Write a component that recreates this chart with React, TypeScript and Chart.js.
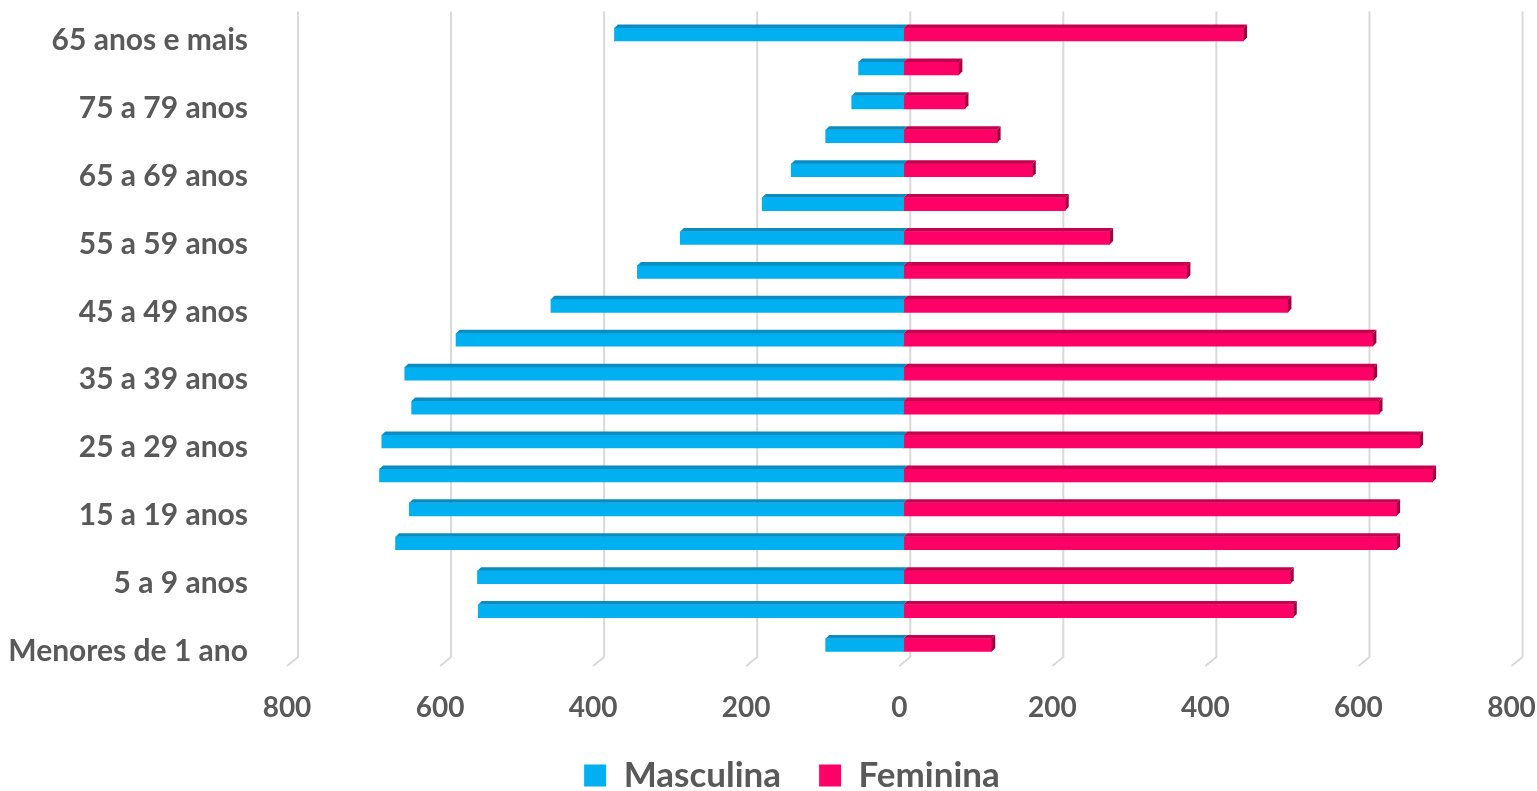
import React, { useEffect, useRef } from 'react';
import { Chart, registerables } from 'chart.js';

Chart.register(...registerables);

// bottom-to-top order
const categories = [
  'Menores de 1 ano', '1 a 4 anos', '5 a 9 anos', '10 a 14 anos', '15 a 19 anos',
  '20 a 24 anos', '25 a 29 anos', '30 a 34 anos', '35 a 39 anos', '40 a 44 anos',
  '45 a 49 anos', '50 a 54 anos', '55 a 59 anos', '60 a 64 anos', '65 a 69 anos',
  '70 a 74 anos', '75 a 79 anos', '80 anos e mais', '65 anos e mais',
];
const masculina = [102, 556, 557, 664, 646, 685, 682, 643, 652, 585, 461, 348, 292, 185, 147, 102, 68, 59, 378];
const feminina = [115, 509, 505, 644, 644, 691, 674, 621, 614, 613, 502, 370, 269, 211, 168, 122, 80, 72, 444];
const xTickValues = [-800, -600, -400, -200, 0, 200, 400, 600, 800];

const BLUE = '#00B0F0';
const BLUE_TOP = '#0A8CC2';
const PINK = '#FF0066';
const PINK_TOP = '#C4004F';
const PINK_SIDE = '#A30042';
const TEXT = '#595959';
const FONT = 'Lato, "Open Sans", sans-serif';

const W = 1529;
const H = 795;

const gridPlugin = {
  id: 'grid3d',
  beforeDatasetsDraw(chart: any) {
    const { ctx, chartArea, scales } = chart;
    const xs = scales.x;
    ctx.save();
    ctx.strokeStyle = '#D9D9D9';
    ctx.lineWidth = 2;
    xTickValues.forEach((v) => {
      const px = xs.getPixelForValue(v);
      ctx.beginPath();
      ctx.moveTo(px + 11, chartArea.top - 6);
      ctx.lineTo(px + 11, chartArea.bottom - 5);
      ctx.lineTo(px, chartArea.bottom + 4);
      ctx.stroke();
    });
    ctx.restore();
  },
};

const layoutTweaks = {
  id: 'layoutTweaks',
  afterLayout(chart: any) {
    if (chart.legend) {
      chart.legend.left += 64.5;
    }
    const xs = chart.scales.x;
    if (xs) {
      xs._computeLabelArea = () => undefined;
    }
  },
};

const barShift = {
  id: 'bar3d',
  beforeDatasetsDraw(chart: any) {
    chart.ctx.save();
    chart.ctx.translate(4.5, 0);
  },
  afterDatasetsDraw(chart: any) {
    const { ctx } = chart;
    const d = 3.5;
    chart.data.datasets.forEach((ds: any, di: number) => {
      const meta = chart.getDatasetMeta(di);
      meta.data.forEach((el: any) => {
        const p = el.getProps(['x', 'y', 'base', 'height'], true);
        const left = Math.min(p.x, p.base);
        const right = Math.max(p.x, p.base);
        const top = p.y - p.height / 2;
        const bottom = p.y + p.height / 2;
        ctx.fillStyle = di === 0 ? BLUE_TOP : PINK_TOP;
        ctx.beginPath();
        ctx.moveTo(left, top);
        ctx.lineTo(left + d, top - d);
        ctx.lineTo(right + d, top - d);
        ctx.lineTo(right, top);
        ctx.closePath();
        ctx.fill();
        if (di === 1) {
          ctx.fillStyle = PINK_SIDE;
          ctx.beginPath();
          ctx.moveTo(right, top);
          ctx.lineTo(right + d, top - d);
          ctx.lineTo(right + d, bottom - d);
          ctx.lineTo(right, bottom);
          ctx.closePath();
          ctx.fill();
        }
      });
    });
    ctx.restore();
  },
};

export default function App() {
  const ref = useRef<HTMLCanvasElement | null>(null);

  useEffect(() => {
    document.documentElement.style.overflow = 'hidden';
    document.body.style.margin = '8px 0 0 8px';
    if (!ref.current) return;
    const chart = new Chart(ref.current, {
      type: 'bar',
      data: {
        labels: categories,
        datasets: [
          {
            label: 'Masculina',
            data: masculina.map((v) => -v),
            backgroundColor: BLUE,
            barThickness: 13,
          },
          {
            label: 'Feminina',
            data: feminina,
            backgroundColor: PINK,
            barThickness: 13,
          },
        ],
      },
      options: {
        indexAxis: 'y',
        responsive: false,
        animation: false,
        devicePixelRatio: 1,
        layout: { padding: { left: 0, right: 25.5, top: 9.5, bottom: 0 } },
        scales: {
          x: {
            stacked: true,
            min: -800,
            max: 800,
            grid: { display: false, drawTicks: false },
            border: { display: false },
            afterFit: (s: any) => {
              s.height = 58;
              s.paddingLeft = 0;
              s.paddingRight = 0;
            },
            ticks: {
              stepSize: 200,
              padding: 29,
              maxRotation: 0,
              color: TEXT,
              font: { family: FONT, size: 28, weight: 'bold' },
              callback: (v: any) => String(Math.abs(Number(v))),
            },
          },
          y: {
            stacked: true,
            reverse: true,
            grid: { display: false, drawTicks: false },
            border: { display: false },
            afterFit: (s: any) => {
              s.width = 279;
              s.paddingTop = 0;
              s.paddingBottom = 0;
            },
            ticks: {
              autoSkip: false,
              padding: 39,
              labelOffset: 6,
              color: TEXT,
              font: { family: FONT, size: 30, weight: 'bold' },
              callback: (_v: any, i: number) => (i % 2 === 0 ? categories[i] : ''),
            },
          },
        },
        plugins: {
          legend: {
            position: 'bottom',
            labels: {
              boxWidth: 22,
              boxHeight: 22,
              padding: 38,
              color: TEXT,
              font: { family: FONT, size: 35, weight: 'bold' },
            },
          },
          tooltip: { enabled: false },
        },
      },
      plugins: [gridPlugin, barShift, layoutTweaks],
    });
    return () => chart.destroy();
  }, []);

  return (
    <div style={{ width: W, height: H }}>
      <canvas ref={ref} width={W} height={H} style={{ display: 'block', width: W, height: H }} />
    </div>
  );
}
